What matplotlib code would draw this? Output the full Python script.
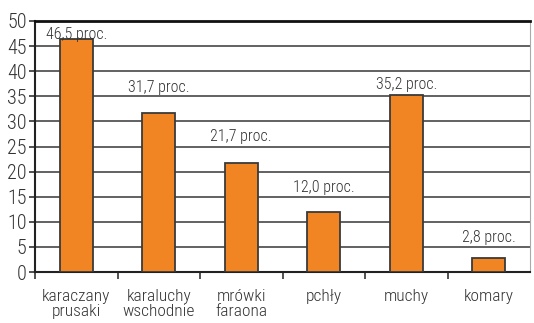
import matplotlib
matplotlib.use("Agg")
import matplotlib.pyplot as plt

plt.rcParams['font.family'] = ['Roboto Condensed', 'DejaVu Sans']

categories = ['karaczany\nprusaki', 'karaluchy\nwschodnie', 'mrówki\nfaraona',
              'pchły', 'muchy', 'komary']
values = [46.5, 31.7, 21.7, 12.0, 35.2, 2.8]
value_labels = ['46,5 proc.', '31,7 proc.', '21,7 proc.', '12,0 proc.', '35,2 proc.', '2,8 proc.']
# vertical placement of each label above its bar (data units)
label_offsets = [0.9, 5.05, 5.3, 4.8, 2.15, 4.1]

txt = '#333333'

fig = plt.figure(figsize=(5.34, 3.23), dpi=100)
ax = fig.add_axes([35 / 534, 51 / 323, 495 / 534, 251 / 323])

x = list(range(len(values)))
ax.bar(x, values, width=0.4, color='#F28523', edgecolor='#3a3a3a', linewidth=1.3, zorder=3)

for xi, v, lab, off in zip(x, values, value_labels, label_offsets):
    ax.text(xi, v + off, lab, ha='center', va='center', fontsize=11.5, color=txt,
            fontweight='light', zorder=4)

ax.set_xlim(-0.5, len(values) - 0.5)
ax.set_ylim(0, 50)
ax.set_yticks(range(0, 51, 5))
ax.yaxis.grid(True, color='#555555', linewidth=1.3, zorder=0)

ax.set_xticks([i - 0.5 for i in range(len(values))])
ax.set_xticklabels([])
ax.set_xticks(x, minor=True)
ax.set_xticklabels(categories, minor=True, fontsize=12.5, color=txt, linespacing=1.05,
                   fontweight='light')
ax.tick_params(axis='x', which='major', direction='out', length=5, width=1.2, color='#333333')
ax.tick_params(axis='x', which='minor', length=0, pad=12)
ax.tick_params(axis='y', direction='out', length=4, width=1.2, color='#333333',
               labelsize=14.5, labelcolor=txt, pad=2)
for t in ax.get_yticklabels():
    t.set_fontweight('light')

ax.spines['left'].set_color('#222222')
ax.spines['left'].set_linewidth(1.5)
ax.spines['bottom'].set_color('#222222')
ax.spines['bottom'].set_linewidth(1.5)
ax.spines['top'].set_color('#111111')
ax.spines['top'].set_linewidth(2)
ax.spines['right'].set_color('#aaaaaa')
ax.spines['right'].set_linewidth(0.8)

fig.savefig('out.png', dpi=100)
